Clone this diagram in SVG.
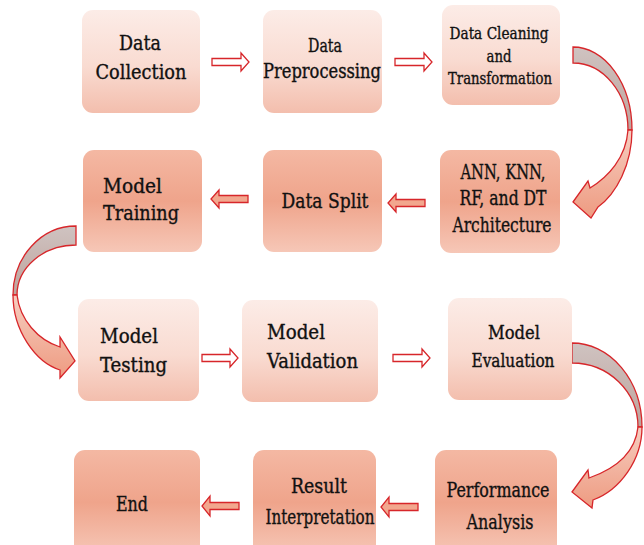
<svg xmlns="http://www.w3.org/2000/svg" width="644" height="545" viewBox="0 0 644 545">
<defs>
<linearGradient id="gLight" x1="0" y1="0" x2="0" y2="1">
<stop offset="0" stop-color="#fcece7"/><stop offset="0.55" stop-color="#f9dbd1"/><stop offset="1" stop-color="#f3bead"/>
</linearGradient>
<linearGradient id="gDark" x1="0" y1="0" x2="0" y2="1">
<stop offset="0" stop-color="#f4b8a3"/><stop offset="0.5" stop-color="#efa48b"/><stop offset="1" stop-color="#f6c7b7"/>
</linearGradient>
<linearGradient id="gBack" x1="0" y1="0" x2="0" y2="1">
<stop offset="0" stop-color="#cfc3c1"/><stop offset="1" stop-color="#bea39c"/>
</linearGradient>
<linearGradient id="gFront" x1="0" y1="0" x2="0" y2="1">
<stop offset="0" stop-color="#f6cdc0"/><stop offset="1" stop-color="#ee9b81"/>
</linearGradient>
<style>
.light{fill:url(#gLight);}
.dark{fill:url(#gDark);}
.t{font-family:"DejaVu Serif Condensed","DejaVu Serif","Liberation Serif",serif;fill:#111111;stroke:#111111;stroke-width:0.35;}
.m{text-anchor:middle;}
.ar{stroke:#d7262a;stroke-width:1.3;stroke-linejoin:miter;}
.w{fill:#ffffff;}
.f{fill:#f2a78e;}
.back{fill:url(#gBack);stroke:#d7262a;stroke-width:1.3;}
.front{fill:url(#gFront);stroke:#d7262a;stroke-width:1.3;}
</style>
</defs>
<rect width="644" height="545" fill="#ffffff"/>

<g id="connectors">
<polygon class="ar w" points="212,58.5 241,58.5 241,53 249,62 241,71 241,65.5 212,65.5"/>
<polygon class="ar w" points="395,58.5 424,58.5 424,53 432,62 424,71 424,65.5 395,65.5"/>
<polygon class="ar f" points="425,199.5 396,199.5 396,194 388,203 396,212 396,206.5 425,206.5"/>
<polygon class="ar f" points="248,195.5 219,195.5 219,190 211,199 219,208 219,202.5 248,202.5"/>
<polygon class="ar w" points="202,354.5 230,354.5 230,349 238,358 230,367 230,361.5 202,361.5"/>
<polygon class="ar w" points="393,354.5 422,354.5 422,349 430,358 422,367 422,361.5 393,361.5"/>
<polygon class="ar f" points="418,503.5 389,503.5 389,497 381,507 389,517 389,510.5 418,510.5"/>
<polygon class="ar f" points="239,502.5 210,502.5 210,496 202,506 210,516 210,509.5 239,509.5"/>
<path class="back" d="M573,47 A59,83 0 0 1 632,130 L628,130 A55,67 0 0 0 573,63 Z"/>
<path class="front" d="M632,130 C632,165 616,194 598,207 L591,218 L573,202 L588,181 L590,188 C608,177 626,158 628,130 Z"/>
<path class="back" d="M76,226 A63,69 0 0 0 13,295 L17,295 A59,50 0 0 1 76,245 Z"/>
<path class="front" d="M13,295 C13,330 35,362 60,370 L60,378 L75,361 L60,337 L60,347 C38,340 20,320 17,295 Z"/>
<path class="back" d="M572,343 A70,84 0 0 1 642,427 L638,427 A66,64 0 0 0 572,363 Z"/>
<path class="front" d="M642,427 C642,460 620,490 593,500 L592,508 L572,492 L588,470 L589,478 C612,470 635,455 638,427 Z"/>
</g>

<g id="data-collection">
<rect class="light" x="82" y="10" width="118" height="103" rx="11"/>
<text class="t m" x="140" y="50" font-size="21" textLength="42" lengthAdjust="spacingAndGlyphs">Data</text>
<text class="t m" x="141" y="79" font-size="21" textLength="91" lengthAdjust="spacingAndGlyphs">Collection</text>
</g>
<g id="data-preprocessing">
<rect class="light" x="263" y="10" width="119" height="103" rx="11"/>
<text class="t m" x="325" y="52" font-size="19" textLength="34" lengthAdjust="spacingAndGlyphs">Data</text>
<text class="t m" x="322" y="78" font-size="20" textLength="118" lengthAdjust="spacingAndGlyphs">Preprocessing</text>
</g>
<g id="data-cleaning">
<rect class="light" x="442" y="5" width="118" height="100" rx="11"/>
<text class="t m" x="499" y="39" font-size="16.5" textLength="99" lengthAdjust="spacingAndGlyphs">Data Cleaning</text>
<text class="t m" x="499" y="62" font-size="16.5" textLength="25" lengthAdjust="spacingAndGlyphs">and</text>
<text class="t m" x="500" y="84" font-size="16.5" textLength="104" lengthAdjust="spacingAndGlyphs">Transformation</text>
</g>
<g id="architecture">
<rect class="dark" x="440" y="150" width="120" height="103" rx="11"/>
<text class="t m" x="503" y="179" font-size="21" textLength="85" lengthAdjust="spacingAndGlyphs">ANN, KNN,</text>
<text class="t m" x="503" y="205" font-size="21" textLength="87" lengthAdjust="spacingAndGlyphs">RF, and DT</text>
<text class="t m" x="502" y="232" font-size="21" textLength="99" lengthAdjust="spacingAndGlyphs">Architecture</text>
</g>
<g id="data-split">
<rect class="dark" x="263" y="150" width="119" height="102" rx="11"/>
<text class="t m" x="325" y="208" font-size="21" textLength="87" lengthAdjust="spacingAndGlyphs">Data Split</text>
</g>
<g id="model-training">
<rect class="dark" x="83" y="150" width="119" height="102" rx="11"/>
<text class="t" x="103" y="193" font-size="21" textLength="59" lengthAdjust="spacingAndGlyphs">Model</text>
<text class="t" x="103" y="220" font-size="21" textLength="76" lengthAdjust="spacingAndGlyphs">Training</text>
</g>
<g id="model-testing">
<rect class="light" x="78" y="299" width="121" height="102" rx="11"/>
<text class="t" x="100" y="343" font-size="21" textLength="58" lengthAdjust="spacingAndGlyphs">Model</text>
<text class="t" x="100" y="372" font-size="21" textLength="67" lengthAdjust="spacingAndGlyphs">Testing</text>
</g>
<g id="model-validation">
<rect class="light" x="242" y="300" width="136" height="102" rx="11"/>
<text class="t" x="267" y="339" font-size="21" textLength="58" lengthAdjust="spacingAndGlyphs">Model</text>
<text class="t" x="267" y="368" font-size="21" textLength="91" lengthAdjust="spacingAndGlyphs">Validation</text>
</g>
<g id="model-evaluation">
<rect class="light" x="448" y="298" width="124" height="102" rx="11"/>
<text class="t m" x="514" y="339" font-size="19" textLength="52" lengthAdjust="spacingAndGlyphs">Model</text>
<text class="t m" x="513" y="367" font-size="19" textLength="83" lengthAdjust="spacingAndGlyphs">Evaluation</text>
</g>
<g id="end">
<rect class="dark" x="74" y="450" width="126" height="105" rx="11"/>
<text class="t m" x="132" y="511" font-size="20" textLength="32" lengthAdjust="spacingAndGlyphs">End</text>
</g>
<g id="result-interpretation">
<rect class="dark" x="253" y="450" width="123" height="105" rx="11"/>
<text class="t m" x="319" y="493" font-size="21" textLength="56" lengthAdjust="spacingAndGlyphs">Result</text>
<text class="t m" x="320" y="524" font-size="20" textLength="109" lengthAdjust="spacingAndGlyphs">Interpretation</text>
</g>
<g id="performance-analysis">
<rect class="dark" x="435" y="450" width="122" height="105" rx="11"/>
<text class="t m" x="498" y="497" font-size="20" textLength="103" lengthAdjust="spacingAndGlyphs">Performance</text>
<text class="t m" x="500" y="529" font-size="20" textLength="67" lengthAdjust="spacingAndGlyphs">Analysis</text>
</g>
</svg>
